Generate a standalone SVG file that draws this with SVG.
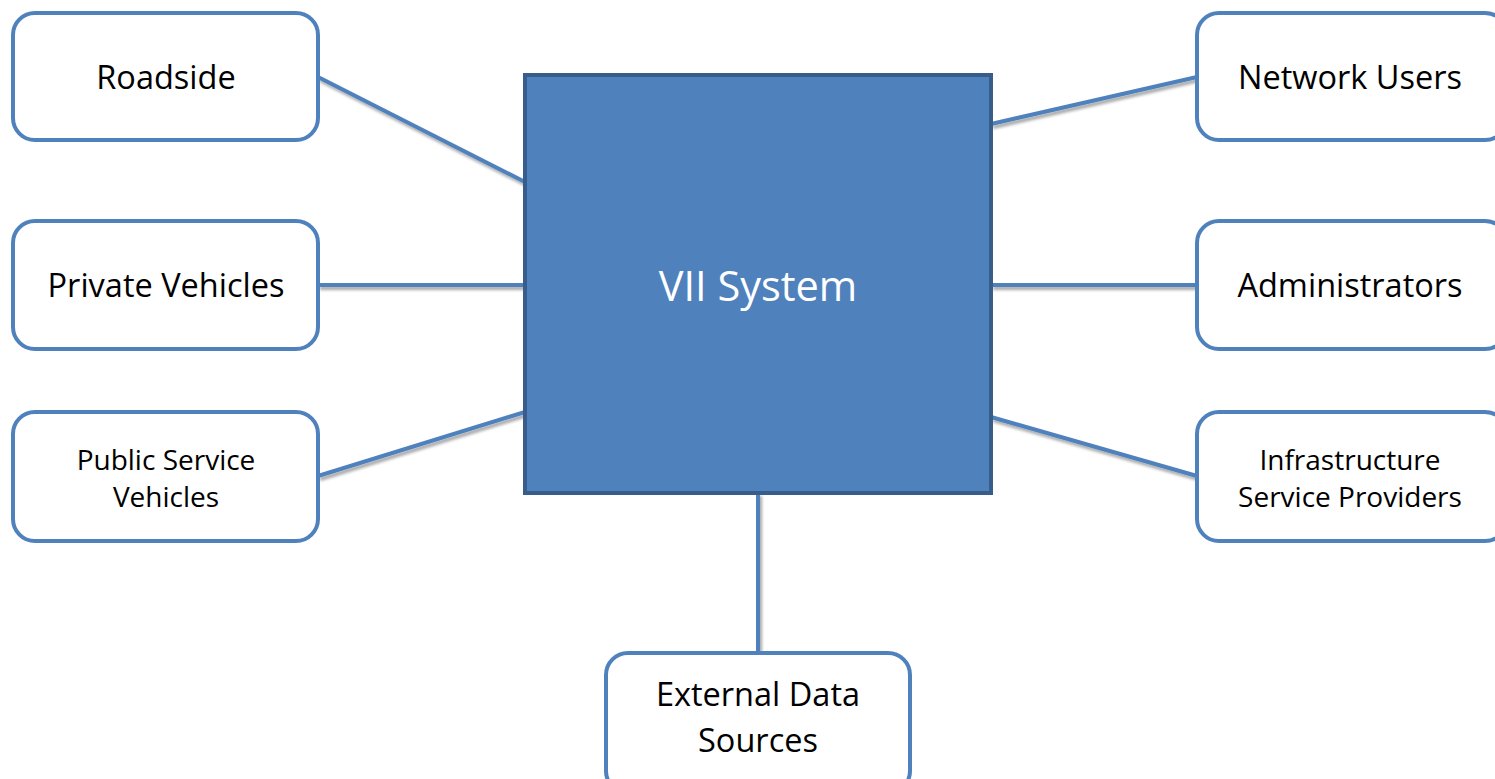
<svg xmlns="http://www.w3.org/2000/svg" width="1495" height="779" viewBox="0 0 1495 779">
<defs>
<filter id="sh" x="-20%" y="-20%" width="140%" height="140%">
<feGaussianBlur in="SourceAlpha" stdDeviation="1.5"/>
<feOffset dx="2" dy="3" result="b"/>
<feComponentTransfer><feFuncA type="linear" slope="0.35"/></feComponentTransfer>
<feMerge><feMergeNode/><feMergeNode in="SourceGraphic"/></feMerge>
</filter>
</defs>
<style>
.box{fill:#fff;stroke:#4F81BD;stroke-width:4}
.c{stroke:#4F81BD;stroke-width:4;fill:none}
.t{font-family:"Open Sans","Liberation Sans",sans-serif;fill:#000;text-anchor:middle}
.big{font-size:32.5px}
.sm{font-size:28px}
</style>
<rect width="1495" height="779" fill="#fff"/>
<g id="connectors" filter="url(#sh)">
<line class="c" x1="318" y1="77" x2="525" y2="182"/>
<line class="c" x1="318" y1="285" x2="525" y2="285"/>
<line class="c" x1="318" y1="476" x2="525" y2="412"/>
<line class="c" x1="991" y1="124" x2="1197" y2="77"/>
<line class="c" x1="991" y1="285" x2="1197" y2="285"/>
<line class="c" x1="991" y1="417" x2="1197" y2="476"/>
<line class="c" x1="758" y1="493" x2="758" y2="653"/>
</g>
<g id="vii">
<rect x="525" y="75" width="466" height="418" fill="#4F81BD" stroke="#385D8A" stroke-width="4"/>
<text class="t" x="758" y="301" font-size="41.5" style="fill:#fff">VII System</text>
</g>
<g id="roadside">
<rect class="box" x="13" y="13" width="305" height="127" rx="22"/>
<text class="t big" x="166" y="89">Roadside</text>
</g>
<g id="private">
<rect class="box" x="13" y="221" width="305" height="128" rx="22"/>
<text class="t big" x="166" y="297">Private Vehicles</text>
</g>
<g id="public">
<rect class="box" x="13" y="412" width="305" height="129" rx="22"/>
<text class="t sm" x="166" y="470">Public Service</text>
<text class="t sm" x="166" y="507">Vehicles</text>
</g>
<g id="network">
<rect class="box" x="1197" y="13" width="310" height="127" rx="22"/>
<text class="t big" x="1350" y="89">Network Users</text>
</g>
<g id="admin">
<rect class="box" x="1197" y="221" width="310" height="128" rx="22"/>
<text class="t big" x="1350" y="297">Administrators</text>
</g>
<g id="infra">
<rect class="box" x="1197" y="412" width="310" height="129" rx="22"/>
<text class="t sm" x="1350" y="470">Infrastructure</text>
<text class="t sm" x="1350" y="507">Service Providers</text>
</g>
<g id="external">
<rect class="box" x="606" y="653" width="304" height="140" rx="22"/>
<text class="t big" x="758" y="706">External Data</text>
<text class="t big" x="758" y="752">Sources</text>
</g>
</svg>
